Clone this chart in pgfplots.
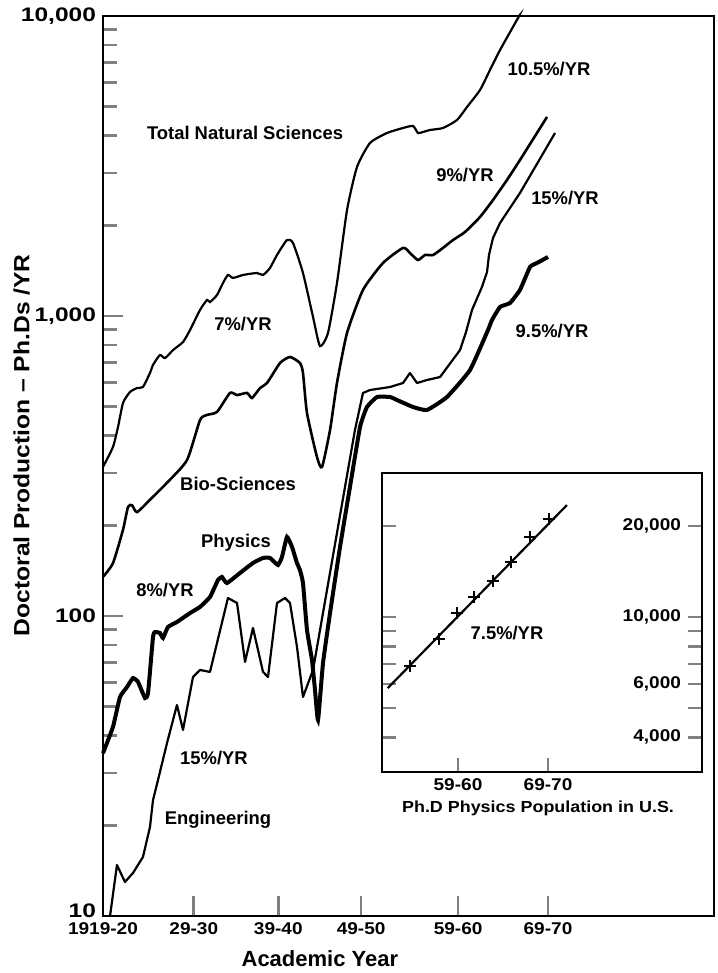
\documentclass[border=0pt]{standalone}
\usepackage{fontspec}
\setmainfont{Liberation Sans}
\newfontfamily\widefont{Liberation Sans}[FakeStretch=1.12,Ligatures=TeX]
\newfontfamily\widerfont{Liberation Sans}[FakeStretch=1.25]
\usepackage{pgfplots}
\pgfplotsset{compat=1.18}
\newcommand\ann{\bfseries\fontsize{9.2}{11}\selectfont}
\begin{document}
\begin{tikzpicture}
\useasboundingbox (-51.5pt,-28.5pt) rectangle (307pt,458pt);
\begin{axis}[
  at={(0pt,0pt)}, anchor=south west,
  scale only axis, width=305.5pt, height=450pt,
  xmin=1919, xmax=1987.65,
  ymode=log, ymin=10, ymax=10000,
  axis line style={line width=1.3pt},
  tick align=inside,
  xtick pos=bottom, ytick pos=left,
  xtick={1919,1929.2,1938.7,1948,1958.9,1969},
  xticklabels={1919-20,29-30,39-40,49-50,59-60,69-70},
  ytick={10,100,1000,10000},
  yticklabels={\raisebox{5pt}{10},100,{1,000},{10,000}},
  minor ytick={20,30,40,50,60,70,80,90,200,300,400,500,600,700,800,900,2000,3000,4000,5000,6000,7000,8000,9000},
  major tick length=10pt, minor tick length=7pt,
  xtick style={line width=1.3pt},
  ytick style={line width=1.3pt},
  minor tick style={line width=1.3pt},
  xticklabel style={font=\widefont\bfseries\fontsize{8.5}{10}\selectfont},
  yticklabel style={font=\widerfont\bfseries\fontsize{9.8}{11}\selectfont},
  xlabel={Academic Year},
  xlabel style={font=\bfseries\fontsize{11}{13}\selectfont, at={(axis description cs:0.355,-0.047)}, anchor=center},
  ylabel={Doctoral Production – Ph.Ds /YR},
  ylabel style={font=\widefont\bfseries\fontsize{11}{13}\selectfont, at={(axis description cs:-0.133,0.523)}, anchor=center},
  clip=false,
]
% Total Natural Sciences
\addplot[line width=1.1pt, smooth, tension=0.35] coordinates {
(1919.00,314) (1920.12,366) (1920.69,427) (1921.25,513) (1922.03,558) (1922.82,575) (1923.49,580)
(1924.28,646) (1924.62,687) (1925.40,741) (1925.97,724) (1926.87,770) (1927.99,819) (1928.78,898)
(1929.90,1047) (1930.69,1131) (1931.02,1113) (1931.81,1175) (1932.48,1288) (1933.04,1370) (1933.61,1339)
(1934.73,1370) (1936.30,1391) (1936.98,1370) (1937.76,1445) (1938.55,1597) (1939.67,1792) (1940.35,1751)
(1941.47,1391) (1942.60,992) (1943.38,794) (1944.28,878) (1945.29,1288) (1946.42,2256) (1947.54,3139)
(1949.00,3773) (1950.91,4074) (1952.71,4233) (1953.83,4299) (1954.39,4074) (1954.96,4106) (1955.74,4169)
(1957.20,4233) (1958.78,4502) (1959.90,4975) (1961.36,5666) (1962.48,6607) (1963.61,7702) (1965.63,9848) (1965.74,10000)
};
% Bio-Sciences
\addplot[line width=1.3pt, smooth, tension=0.35] coordinates {
(1919.00,135) (1920.12,150) (1921.25,194) (1921.81,231) (1922.26,234) (1922.82,222) (1924.28,244)
(1926.19,278) (1928.44,331) (1929.90,450) (1930.69,468) (1931.81,479) (1933.27,554) (1934.06,545)
(1935.18,554) (1935.74,533) (1936.64,575) (1937.43,598) (1938.89,697) (1940.01,730) (1941.13,697)
(1941.47,646) (1941.92,475) (1943.04,339) (1943.61,314) (1944.51,417) (1945.29,598) (1946.42,878)
(1948.21,1221) (1950.46,1502) (1952.71,1686) (1953.49,1622) (1954.39,1537) (1955.18,1597) (1956.08,1597)
(1957.20,1686) (1958.33,1792) (1959.67,1905) (1961.36,2138) (1962.82,2436) (1964.39,2840) (1965.85,3311) (1968.89,4608)
};
% Physics
\addplot[line width=2pt, smooth, tension=0.25] coordinates {
(1919.00,34.9) (1920.12,42.7) (1920.91,53.7) (1921.70,58.0) (1922.37,62.1) (1922.93,60.3) (1923.72,53.3)
(1924.06,55.4) (1924.62,85.1) (1924.84,88.4) (1925.40,87.8) (1925.74,84.5) (1926.30,91.9) (1927.31,95.5)
(1928.78,102.3) (1929.90,107.2) (1931.02,115.7) (1931.92,131.8) (1932.37,134.9) (1932.93,128.8)
(1934.39,139.1) (1935.85,150.2) (1936.98,156.1) (1937.76,156.1) (1938.66,147.9) (1939.11,157.3)
(1939.67,183.4) (1940.24,169.8) (1940.80,150) (1941.13,142.3) (1941.47,128.8) (1941.92,89.8) (1942.48,71.4)
(1942.82,56.7) (1943.16,45.0) (1943.72,69.7) (1944.51,102.3) (1945.63,169.8) (1946.75,269.2) (1947.88,426.6)
(1948.66,497.4) (1949.79,537) (1951.25,537) (1952.03,524.8) (1953.83,497.4) (1955.40,486) (1957.65,537)
(1960.24,660.7) (1962.26,898.3) (1962.71,970) (1963.61,1072) (1964.73,1105) (1965.85,1221) (1966.98,1457)
(1967.76,1502) (1969.00,1573)
};
% Engineering
\addplot[line width=1.1pt, line join=round] coordinates {
(1919.79,10.0) (1920.57,14.79) (1921.47,12.98) (1922.37,13.91) (1923.49,15.73) (1924.28,19.81) (1924.62,24.36)
(1925.18,28.4) (1926.19,37.7) (1927.31,50.5) (1927.99,41.7) (1929.11,62.6) (1929.90,66.1) (1931.02,65.1)
(1933.04,114.8) (1934.06,110.5) (1934.96,70.3) (1935.85,91.2) (1936.98,65.1) (1937.54,62.6) (1938.55,110.5)
(1939.45,114.8) (1940.01,110.5) (1940.80,78.8) (1941.47,53.7) (1942.60,66.1) (1947.31,416.9) (1948.21,553.8)
(1949.00,566.6) (1951.25,579.8) (1952.71,597.9) (1953.49,645.7) (1954.28,597.9) (1955.40,611.8) (1956.87,626)
(1959.11,770) (1959.79,884.6) (1960.46,1047) (1961.58,1250) (1962.15,1402) (1962.37,1597) (1962.82,1820)
(1963.61,2042) (1965.85,2570) (1969.79,4074)
};
\node[font=\ann] at (axis cs:1934.96,4074) {Total Natural Sciences};
\node[font=\ann] at (axis cs:1969.11,6659) {10.5\%/YR};
\node[font=\ann] at (axis cs:1959.67,2951) {9\%/YR};
\node[font=\ann] at (axis cs:1970.91,2474) {15\%/YR};
\node[font=\ann] at (axis cs:1934.73,940) {7\%/YR};
\node[font=\ann] at (axis cs:1969.45,891) {9.5\%/YR};
\node[font=\ann] at (axis cs:1934.17,275.4) {Bio-Sciences};
\node[font=\ann] at (axis cs:1933.94,175.2) {Physics};
\node[font=\ann] at (axis cs:1925.97,122.1) {8\%/YR};
\node[font=\ann] at (axis cs:1931.47,33.6) {15\%/YR};
\node[font=\ann] at (axis cs:1931.92,20.9) {Engineering};
\end{axis}
\begin{axis}[
  at={(139.5pt,72pt)}, anchor=south west,
  scale only axis, width=160pt, height=149.5pt,
  xmin=1950.56, xmax=1986.1,
  ymode=log, ymin=3070, ymax=30000,
  axis background/.style={fill=white},
  axis line style={line width=1.3pt},
  tick align=inside,
  xtick pos=bottom,
  xtick={1959,1969}, xticklabels={59-60,69-70},
  ytick={4000,5000,6000,7000,8000,9000,10000,20000},
  yticklabels={{4,000},,{6,000},,,,{10,000},{20,000}},
  minor ytick={},
  ytick pos=both, yticklabel pos=right,
  major tick length=7pt,
  xtick style={line width=1.3pt},
  ytick style={line width=1.3pt},
  xticklabel style={font=\widefont\bfseries\fontsize{8.5}{10}\selectfont},
  yticklabel style={font=\widefont\bfseries\fontsize{8.5}{10}\selectfont, anchor=east, xshift=-7pt},
  xlabel={Ph.D Physics Population in U.S.},
  xlabel style={font=\widefont\bfseries\fontsize{8}{10}\selectfont, at={(axis description cs:0.4875,0)}, anchor=north, yshift=-11pt},
]
\addplot[line width=1.1pt] coordinates {(1951.2,5821) (1971.1,23490)};
\addplot[only marks, mark=+, mark size=3pt, mark options={line width=1.1pt}] coordinates {
(1953.7,6882) (1956.9,8457) (1958.9,10310) (1960.8,11650) (1962.9,13160) (1964.9,15210) (1967.0,18400) (1969.1,21110)
};
\node[font=\ann] at (axis cs:1964.44,8852) {7.5\%/YR};
\end{axis}
\end{tikzpicture}
\end{document}
